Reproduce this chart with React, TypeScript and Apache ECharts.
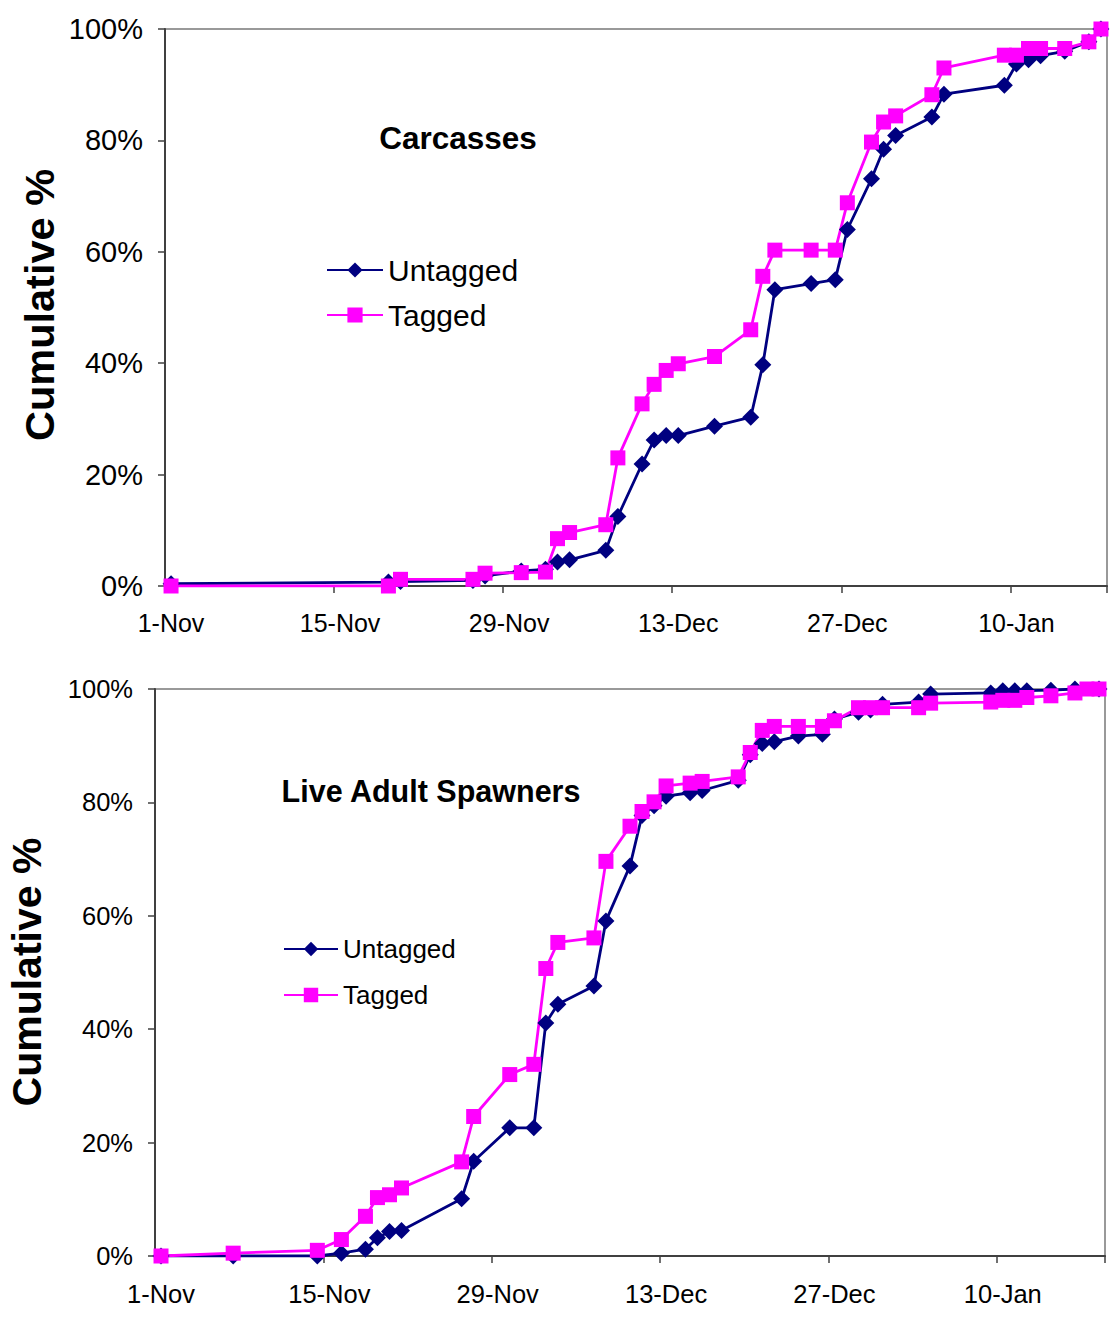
import React, { useEffect, useRef } from "react";
import * as echarts from "echarts";

// X-axis tick labels (every 14 days from 1-Nov)
const xTickLabels = ["1-Nov", "15-Nov", "29-Nov", "13-Dec", "27-Dec", "10-Jan"];
const yTickStep = 20;

// ---- Carcasses panel ----
const carcUntaggedDates = [
  "1-Nov", "19-Nov", "20-Nov", "26-Nov", "27-Nov", "30-Nov", "2-Dec", "3-Dec", "4-Dec", "7-Dec",
  "8-Dec", "10-Dec", "11-Dec", "12-Dec", "13-Dec", "16-Dec", "19-Dec", "20-Dec", "21-Dec", "24-Dec",
  "26-Dec", "27-Dec", "29-Dec", "30-Dec", "31-Dec", "3-Jan", "4-Jan", "9-Jan", "10-Jan", "11-Jan",
  "12-Jan", "14-Jan", "16-Jan", "17-Jan",
];
const carcUntaggedPct = [
  0.4, 0.7, 0.8, 1.0, 1.8, 2.7, 3.0, 4.3, 4.7, 6.4,
  12.5, 21.9, 26.2, 27.0, 27.0, 28.7, 30.3, 39.7, 53.2, 54.3,
  55.0, 64.0, 73.1, 78.4, 80.9, 84.2, 88.3, 89.9, 93.7, 94.5,
  95.2, 96.0, 97.7, 100,
];
const carcTaggedDates = carcUntaggedDates;
const carcTaggedPct = [
  0, 0, 1.2, 1.2, 2.3, 2.4, 2.5, 8.5, 9.6, 11.0,
  23.0, 32.7, 36.2, 38.7, 39.9, 41.2, 46.0, 55.6, 60.3, 60.3,
  60.3, 68.8, 79.7, 83.3, 84.4, 88.2, 93.0, 95.3, 95.3, 96.5,
  96.5, 96.5, 97.7, 100,
];

// ---- Live Adult Spawners panel ----
const liveUntaggedDates = [
  "1-Nov", "7-Nov", "14-Nov", "16-Nov", "18-Nov", "19-Nov", "20-Nov", "21-Nov", "26-Nov", "27-Nov",
  "30-Nov", "2-Dec", "3-Dec", "4-Dec", "7-Dec", "8-Dec", "10-Dec", "11-Dec", "12-Dec", "13-Dec",
  "15-Dec", "16-Dec", "19-Dec", "20-Dec", "21-Dec", "22-Dec", "24-Dec", "26-Dec", "27-Dec", "29-Dec",
  "30-Dec", "31-Dec", "3-Jan", "4-Jan", "9-Jan", "10-Jan", "11-Jan", "12-Jan", "14-Jan", "16-Jan",
  "18-Jan",
];
const liveUntaggedPct = [
  0, 0, 0, 0.5, 1.2, 3.2, 4.3, 4.5, 10.1, 16.7,
  22.6, 22.6, 41.1, 44.4, 47.6, 59.1, 68.8, 77.7, 79.4, 81.1,
  81.7, 82.1, 83.9, 88.4, 90.4, 90.7, 91.7, 92.0, 94.7, 95.9,
  96.3, 97.3, 97.7, 99.1, 99.3, 99.7, 99.7, 99.7, 99.8, 100,
  100,
];
const liveTaggedDates = [
  "1-Nov", "7-Nov", "14-Nov", "16-Nov", "18-Nov", "19-Nov", "20-Nov", "21-Nov", "26-Nov", "27-Nov",
  "30-Nov", "2-Dec", "3-Dec", "4-Dec", "7-Dec", "8-Dec", "10-Dec", "11-Dec", "12-Dec", "13-Dec",
  "15-Dec", "16-Dec", "19-Dec", "20-Dec", "21-Dec", "22-Dec", "24-Dec", "26-Dec", "27-Dec", "29-Dec",
  "30-Dec", "31-Dec", "3-Jan", "4-Jan", "9-Jan", "10-Jan", "11-Jan", "12-Jan", "14-Jan", "16-Jan",
  "17-Jan", "18-Jan",
];
const liveTaggedPct = [
  0, 0.5, 1.0, 2.9, 7.0, 10.3, 10.8, 12.0, 16.6, 24.6,
  32.0, 33.8, 50.7, 55.3, 56.1, 69.6, 75.8, 78.4, 80.1, 82.9,
  83.4, 83.7, 84.5, 88.8, 92.7, 93.4, 93.4, 93.4, 94.4, 96.7,
  96.7, 96.7, 96.7, 97.5, 97.7, 98.0, 98.0, 98.5, 98.8, 99.3,
  100, 100,
];

const NAVY = "#000080";
const MAGENTA = "#FF00FF";
const FONT = "'Liberation Sans', Arial, sans-serif";

const monthOffset: Record<string, number> = { Nov: 0, Dec: 30, Jan: 61 };
// days since 1-Nov; points sit at the middle of their day (Excel date axis)
const dayPos = (label: string) => {
  const [d, m] = label.split("-");
  return monthOffset[m] + Number(d) - 1 + 0.5;
};

const pairs = (dates: string[], vals: number[]) => dates.map((d, i) => [dayPos(d), vals[i]]);

export default function App() {
  const ref = useRef<HTMLDivElement>(null);
  useEffect(() => {
    document.body.style.margin = "0";
    const chart = echarts.init(ref.current!, undefined, { renderer: "svg" });

    const xAxisBase = (gridIndex: number, max: number, fontSize: number, margin: number) => ({
      type: "value" as const,
      gridIndex,
      min: 0,
      max,
      interval: 14,
      axisLine: { show: true, lineStyle: { color: "#404040", width: 2 } },
      axisTick: { show: true, length: 7, lineStyle: { color: "#404040", width: 1.5 } },
      splitLine: { show: false },
      axisLabel: {
        color: "#000",
        fontFamily: FONT,
        fontSize,
        margin,
        padding: [0, 0, 0, 12],
        formatter: (v: number) => {
          const k = Math.round(v / 14);
          if (Math.abs(v - k * 14) > 0.01 || k >= xTickLabels.length) return "";
          return xTickLabels[k];
        },
      },
    });
    const yAxisBase = (gridIndex: number, fontSize: number) => ({
      type: "value" as const,
      gridIndex,
      min: 0,
      max: 100,
      interval: yTickStep,
      axisLine: { show: true, lineStyle: { color: "#404040", width: 2 } },
      axisTick: { show: true, length: 7, lineStyle: { color: "#404040", width: 1.5 } },
      splitLine: { show: false },
      axisLabel: {
        color: "#000",
        fontFamily: FONT,
        fontSize,
        margin: 22,
        formatter: (v: number) => `${v}%`,
      },
    });

    const lineSeries = (
      name: string,
      data: number[][],
      idx: number,
      color: string,
      symbol: string,
      size: number
    ) => ({
      type: "line" as const,
      name,
      xAxisIndex: idx,
      yAxisIndex: idx,
      data,
      symbol,
      symbolSize: size,
      showSymbol: true,
      lineStyle: { color, width: 2.8 },
      itemStyle: { color, borderWidth: 0 },
      emphasis: { disabled: true },
    });

    chart.setOption({
      animation: false,
      backgroundColor: "#fff",
      grid: [
        { left: 165, top: 29, width: 942, height: 557, show: true, borderColor: "#999", borderWidth: 2, backgroundColor: "transparent" },
        { left: 155, top: 689, width: 950, height: 567, show: true, borderColor: "#999", borderWidth: 2, backgroundColor: "transparent" },
      ],
      xAxis: [xAxisBase(0, 78, 25, 24), xAxisBase(1, 79, 25.5, 25)],
      yAxis: [yAxisBase(0, 29), yAxisBase(1, 25.5)],
      legend: [
        {
          orient: "vertical",
          left: 326,
          top: 255,
          itemWidth: 56,
          itemHeight: 19,
          itemGap: 15,
          padding: 0,
          data: ["Untagged", "Tagged"],
          textStyle: { fontFamily: FONT, fontSize: 30, color: "#000" },
          selectedMode: false,
        },
        {
          orient: "vertical",
          left: 283,
          top: 936,
          itemWidth: 54,
          itemHeight: 18,
          itemGap: 20,
          padding: 0,
          data: ["Untagged", "Tagged"],
          textStyle: { fontFamily: FONT, fontSize: 26, color: "#000" },
          selectedMode: false,
        },
      ],
      graphic: [
        {
          type: "text",
          x: 458,
          y: 138,
          style: { text: "Carcasses", font: `bold 31.5px ${FONT}`, fill: "#000", textAlign: "center", textVerticalAlign: "middle" },
        },
        {
          type: "text",
          x: 431,
          y: 791,
          style: { text: "Live Adult Spawners", font: `bold 30.5px ${FONT}`, fill: "#000", textAlign: "center", textVerticalAlign: "middle" },
        },
        {
          type: "text",
          x: 39,
          y: 305,
          rotation: Math.PI / 2,
          style: { text: "Cumulative %", font: `bold 41.5px ${FONT}`, fill: "#000", textAlign: "center", textVerticalAlign: "middle" },
        },
        {
          type: "text",
          x: 27,
          y: 972,
          rotation: Math.PI / 2,
          style: { text: "Cumulative %", font: `bold 41px ${FONT}`, fill: "#000", textAlign: "center", textVerticalAlign: "middle" },
        },
      ],
      series: [
        lineSeries("Untagged", pairs(carcUntaggedDates, carcUntaggedPct), 0, NAVY, "diamond", 17),
        lineSeries("Tagged", pairs(carcTaggedDates, carcTaggedPct), 0, MAGENTA, "rect", 15),
        lineSeries("Untagged", pairs(liveUntaggedDates, liveUntaggedPct), 1, NAVY, "diamond", 17),
        lineSeries("Tagged", pairs(liveTaggedDates, liveTaggedPct), 1, MAGENTA, "rect", 15),
      ],
    });
    return () => chart.dispose();
  }, []);
  return <div ref={ref} style={{ position: "absolute", left: 0, top: 0, width: 1110, height: 1320 }} />;
}
